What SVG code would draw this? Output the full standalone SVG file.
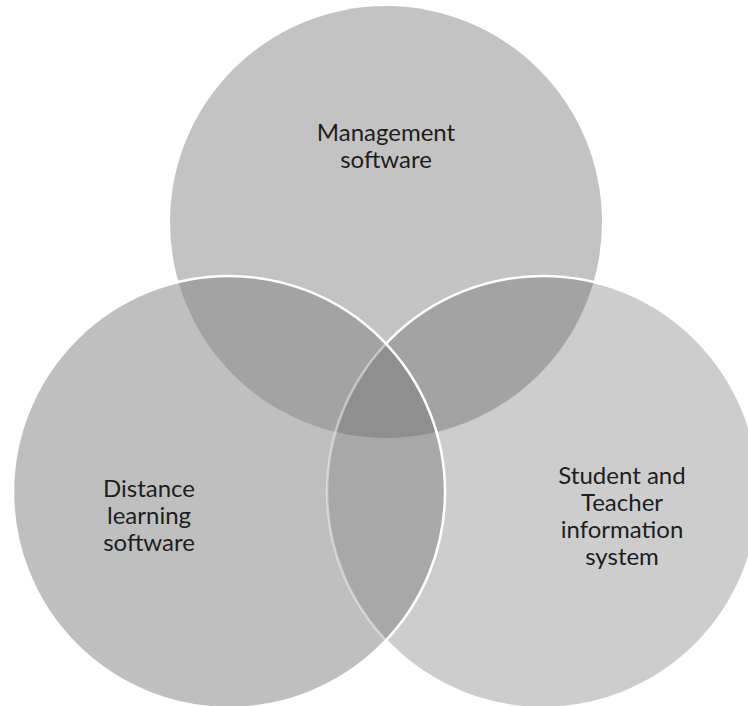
<svg xmlns="http://www.w3.org/2000/svg" width="748" height="706" viewBox="0 0 748 706">
  <style>
    .lbl { font-family: Lato, "Liberation Sans", sans-serif; font-size: 24px; fill: #1e1e1e; text-anchor: middle; }
    .ring { fill: none; stroke: #ffffff; stroke-width: 2.5; }
  </style>
  <defs>
    <circle id="cT" cx="386" cy="222" r="216"/>
    <circle id="cL" cx="229" cy="492" r="216"/>
    <circle id="cR" cx="543" cy="492" r="216"/>
    <clipPath id="clipT"><use href="#cT"/></clipPath>
    <clipPath id="clipL"><use href="#cL"/></clipPath>
    <clipPath id="clipR"><use href="#cR"/></clipPath>
    <mask id="maskR" maskUnits="userSpaceOnUse" x="0" y="0" width="748" height="706">
      <rect x="0" y="0" width="748" height="706" fill="#ffffff"/>
      <use href="#cL" fill="#707070"/>
    </mask>
  </defs>
  <rect x="0" y="0" width="748" height="706" fill="#ffffff"/>

  <g id="node-management">
    <use href="#cT" fill="#c3c3c3"/>
  </g>
  <g id="node-student-teacher">
    <use href="#cR" fill="#cdcdcd"/>
  </g>
  <g id="node-distance">
    <use href="#cL" fill="#bfbfbf"/>
  </g>

  <g id="overlaps">
    <g clip-path="url(#clipT)"><use href="#cL" fill="#a3a3a3"/></g>
    <g clip-path="url(#clipT)"><use href="#cR" fill="#a3a3a3"/></g>
    <g clip-path="url(#clipL)"><use href="#cR" fill="#a8a8a8"/></g>
    <g clip-path="url(#clipT)"><g clip-path="url(#clipL)"><use href="#cR" fill="#8f8f8f"/></g></g>
  </g>

  <g id="outlines">
    <use href="#cR" class="ring" mask="url(#maskR)"/>
    <use href="#cL" class="ring"/>
  </g>

  <g id="labels">
    <text class="lbl" x="386" y="141">Management</text>
    <text class="lbl" x="386" y="168">software</text>
    <text class="lbl" x="149" y="497">Distance</text>
    <text class="lbl" x="149" y="524">learning</text>
    <text class="lbl" x="149" y="551">software</text>
    <text class="lbl" x="622" y="484">Student and</text>
    <text class="lbl" x="622" y="511">Teacher</text>
    <text class="lbl" x="622" y="538">information</text>
    <text class="lbl" x="622" y="565">system</text>
  </g>
</svg>
